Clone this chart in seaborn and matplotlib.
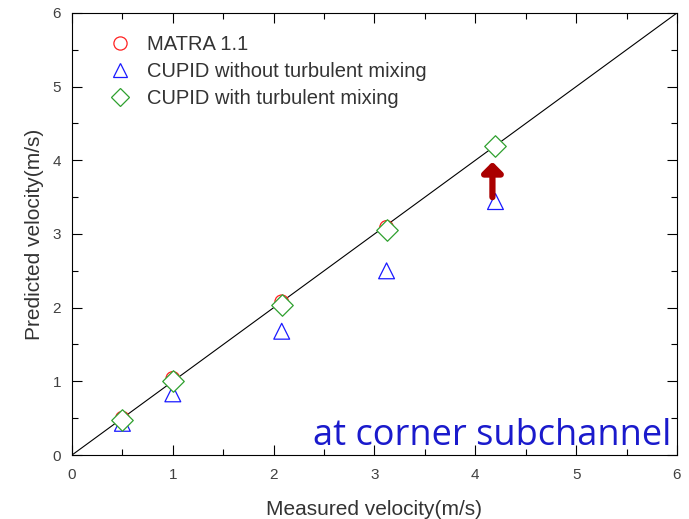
import matplotlib
matplotlib.use("Agg")
import matplotlib.pyplot as plt
import seaborn as sns
import pandas as pd
from matplotlib.ticker import MultipleLocator
from matplotlib.lines import Line2D

measured_matra = [0.5, 1.0, 2.08, 3.12]
pred_matra = [0.50, 1.04, 2.08, 3.09]
measured_cupid = [0.5, 1.0, 2.08, 3.12, 4.2]
pred_cupid_wo = [0.43, 0.83, 1.68, 2.50, 3.44]
pred_cupid_with = [0.48, 1.01, 2.04, 3.05, 4.20]

labels = ["MATRA 1.1", "CUPID without turbulent mixing", "CUPID with turbulent mixing"]
colors = ["#ff2020", "#1a1aff", "#2ea02e"]

df = pd.concat([
    pd.DataFrame({"x": measured_matra, "y": pred_matra, "model": labels[0]}),
    pd.DataFrame({"x": measured_cupid, "y": pred_cupid_wo, "model": labels[1]}),
    pd.DataFrame({"x": measured_cupid, "y": pred_cupid_with, "model": labels[2]}),
])

sns.set_style("ticks")
plt.rcParams["font.family"] = ["Liberation Sans", "DejaVu Sans"]

fig = plt.figure(figsize=(6.89, 5.19), dpi=100)
ax = fig.add_axes([0.1045, 0.1233, 0.878, 0.8517])

ax.plot([0, 6], [0, 6], color="black", lw=0.8, zorder=1)

for lab, m, c, sz in zip(labels, ["o", "^", "D"], colors, [95, 130, 120]):
    sub = df[df["model"] == lab]
    sns.scatterplot(data=sub, x="x", y="y", marker=m, s=sz, ax=ax,
                    facecolor="white" if m == "D" else "none",
                    edgecolor=c, linewidth=0.9, zorder=3, legend=False)

handles = [Line2D([], [], ls="none", marker=m, mfc="none", mec=c, ms=ms, mew=0.9)
           for m, c, ms in zip(["o", "^", "D"], colors, [9.5, 10, 9])]
ax.legend(handles, labels, loc="upper left", frameon=False, fontsize=14.5,
          handlelength=1.2, handletextpad=0.75, labelspacing=0.4,
          bbox_to_anchor=(0.0295, 0.992), labelcolor="#333333")

ax.annotate("", xy=(4.17, 3.98), xytext=(4.17, 3.5),
            arrowprops=dict(arrowstyle="-|>,head_width=0.6,head_length=0.6",
                            color="#aa0000", lw=4.5, shrinkA=0, shrinkB=0))

ax.text(0.99, 0.003, "at corner subchannel", transform=ax.transAxes,
        ha="right", va="bottom", color="#1a1acc", fontsize=26,
        family=["Open Sans", "DejaVu Sans"])

ax.set_xlim(0, 6)
ax.set_ylim(0, 6)
ax.xaxis.set_major_locator(MultipleLocator(1))
ax.yaxis.set_major_locator(MultipleLocator(1))
ax.xaxis.set_minor_locator(MultipleLocator(0.5))
ax.yaxis.set_minor_locator(MultipleLocator(0.5))
ax.tick_params(which="both", direction="in", top=True, right=True,
               labelcolor="#404040", labelsize=11, color="black")
ax.tick_params(which="major", length=7, width=0.8)
ax.tick_params(which="minor", length=4, width=0.8)
ax.tick_params(axis="x", which="major", pad=9)
ax.tick_params(axis="y", which="major", pad=8)
for sp in ax.spines.values():
    sp.set_linewidth(0.8)
    sp.set_color("black")

ax.set_xlabel("Measured velocity(m/s)", fontsize=15, color="#333333", labelpad=13)
ax.set_ylabel("Predicted velocity(m/s)", fontsize=15, color="#333333", labelpad=6)

fig.savefig("out.png", dpi=100)
